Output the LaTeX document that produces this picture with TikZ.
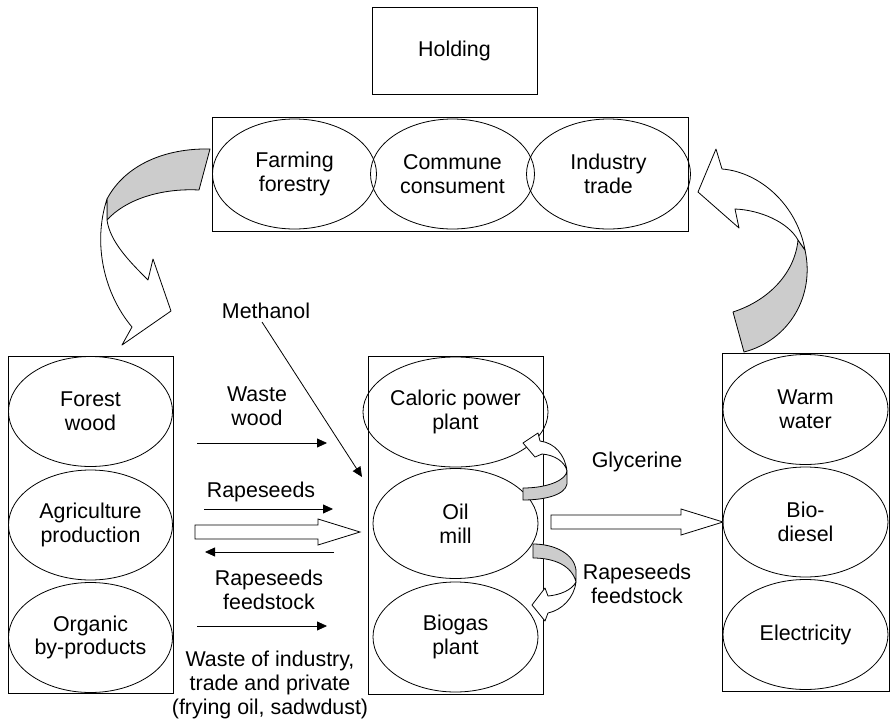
\documentclass[tikz,border=0pt]{standalone}
\usepackage{fontspec}
\setmainfont{Liberation Sans}
\usepackage{tikz}
\usetikzlibrary{arrows.meta, positioning, shapes.geometric, calc}

\tikzset{
  frame/.style={draw, line width=0.5pt, inner sep=0pt},
  oval/.style={draw, ellipse, line width=0.4pt, inner sep=0pt,
               minimum width=82pt, minimum height=55pt, align=center},
  lbl/.style={align=center, inner sep=0pt},
  flow/.style={-{Triangle[length=5pt,width=4.5pt]}, line width=0.4pt},
  hollow/.style={draw, fill=white, line width=0.4pt},
  ribbon/.style={draw, fill=white, line width=0.4pt, line join=round},
  shade/.style={draw, fill=black!20, line width=0.4pt, line join=round}
}
\newcommand{\blockarrow}[2]{%
  \draw[hollow] ($(#1)+(0,-7)$) -- ($(#2)+(-42,-7)$) -- ($(#2)+(-42,-13)$)
    -- (#2) -- ($(#2)+(-42,13)$) -- ($(#2)+(-42,7)$) -- ($(#1)+(0,7)$) -- cycle;}

\begin{document}
\begin{tikzpicture}[x=0.5pt, y=-0.5pt, font=\fontsize{10.7}{11.8}\selectfont]
  \useasboundingbox (0,0) rectangle (890,723);

  \node[frame, minimum width=82.5pt, minimum height=43.5pt] (holding) at (454.5,50.5) {Holding};

  \node[frame, minimum width=238pt, minimum height=57pt] (top) at (450,174) {};
  \node[oval] (farming) at (294.5,174) {Farming\\forestry};
  \node[oval] (commune) at (452.5,174) {Commune\\consument};
  \node[oval] (industry) at (608.5,174) {Industry\\trade};

  \node[frame, minimum width=82.5pt, minimum height=168.5pt] (lbox) at (90.5,524.5) {};
  \node[oval] (forest) at (90.5,411.5) {Forest\\wood};
  \node[oval] (agri) at (90.5,525) {Agriculture\\production};
  \node[oval] (organic) at (90.5,637.5) {Organic\\by-products};

  \node[frame, minimum width=87.5pt, minimum height=169pt] (mbox) at (455.5,525) {};
  \node[oval, minimum width=82.5pt] (caloric) at (455.5,412) {Caloric power\\plant};
  \node[oval, minimum width=82.5pt] (oilmill) at (455.5,523.5) {Oil\\mill};
  \node[oval, minimum width=82.5pt] (biogas) at (455.5,637) {Biogas\\plant};

  \node[frame, minimum width=83.5pt, minimum height=169pt] (rbox) at (805.5,522) {};
  \node[oval, minimum width=82.5pt] (warm) at (805.5,409.5) {Warm\\water};
  \node[oval, minimum width=82.5pt] (biodiesel) at (805.5,522) {Bio-\\diesel};
  \node[oval, minimum width=82.5pt] (elec) at (805.5,634.5) {Electricity};

  \node[lbl] (meth) at (266,311) {Methanol};
  \node[lbl] (wwood) at (257,406) {Waste\\wood};
  \node[lbl] (rape) at (261,492) {Rapeseeds};
  \node[lbl] (rfeed) at (269,590) {Rapeseeds\\feedstock};
  \node[lbl] (waste) at (270,685) {Waste of industry,\\trade and private\\(frying oil, sadwdust)};
  \node[lbl] (gly) at (637,462) {Glycerine};
  \node[lbl] (rfeedb) at (637,584) {Rapeseeds\\feedstock};

  \coordinate (methstart) at (262,322);
  \coordinate (methtip) at (362,477);
  \coordinate (ww1) at (197,443);
  \coordinate (ww2) at (327,443);
  \coordinate (rs1) at (204,509);
  \coordinate (rs2) at (333,509);
  \coordinate (rb1) at (334,552);
  \coordinate (rb2) at (205,552);
  \coordinate (wi1) at (197,626);
  \coordinate (wi2) at (327,626);
  \coordinate (b1s) at (195,532);
  \coordinate (b1e) at (360,532);
  \coordinate (b2s) at (551,522);
  \coordinate (b2e) at (723,522);

  \draw[flow] (methstart) -- (methtip);
  \draw[flow] (ww1) -- (ww2);
  \draw[flow] (rs1) -- (rs2);
  \draw[flow] (rb1) -- (rb2);
  \draw[flow] (wi1) -- (wi2);
  \blockarrow{b1s}{b1e}
  \blockarrow{b2s}{b2e}

  \draw[shade] (210,149) .. controls (165,148) and (125,165) .. (107,199)
    -- (107,220) .. controls (125,200) and (160,188) .. (199,190) -- cycle;
  \draw[ribbon] (107,199) .. controls (92,245) and (105,295) .. (132,327)
    -- (122,345) -- (171,311) -- (153,259) -- (148,280)
    .. controls (130,262) and (110,242) .. (107,220) -- cycle;

  \draw[shade] (733,312) .. controls (770,300) and (795,272) .. (798,240)
    -- (805,250) .. controls (815,295) and (790,340) .. (744,352) -- cycle;
  \draw[ribbon] (805,250) .. controls (797,205) and (760,172) .. (722,169)
    -- (716,149) -- (698,192) -- (739,228) -- (735,209)
    .. controls (760,210) and (788,222) .. (798,240) -- cycle;

  \draw[shade] (523,488) .. controls (548,488) and (566,480) .. (567,471)
    -- (567,484) .. controls (565,495) and (545,500) .. (523,500) -- cycle;
  \draw[ribbon] (567,471) .. controls (565,455) and (555,443) .. (540,441)
    -- (538,433) -- (523,443) -- (535,457) -- (542,454)
    .. controls (555,455) and (565,462) .. (567,471) -- cycle;

  \draw[shade] (533,544) .. controls (555,544) and (574,554) .. (576,570)
    -- (576,582) .. controls (572,566) and (555,558) .. (533,558) -- cycle;
  \draw[ribbon] (576,582) .. controls (574,598) and (562,610) .. (548,613)
    -- (545,621) -- (532,605) -- (545,588) -- (548,596)
    .. controls (560,595) and (572,590) .. (576,582) -- cycle;
\end{tikzpicture}
\end{document}
